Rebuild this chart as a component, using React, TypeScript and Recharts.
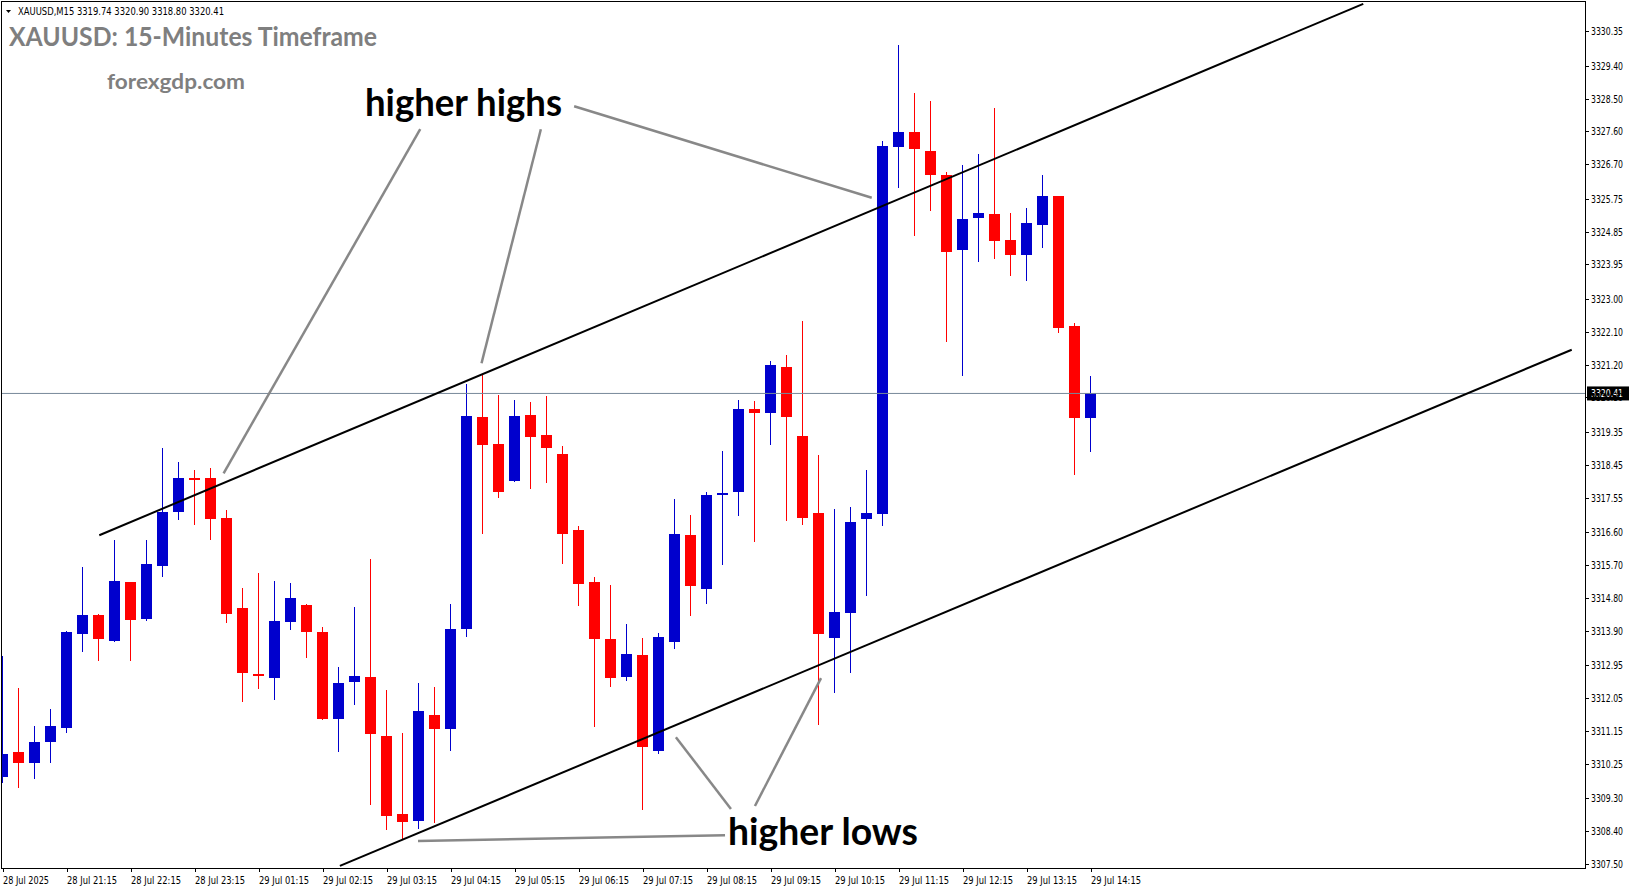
import React from "react";
import { ComposedChart, Bar, XAxis, YAxis, ReferenceLine } from "recharts";

// XAUUSD M15 bars, 28 Jul 20:15 -> 29 Jul 14:15 (no bars between 00:00 and 01:00)
const opens = [
  3309.88, 3310.57, 3310.27, 3310.84, 3311.23, 3313.81, 3314.33, 3313.61, 3315.23, 3314.22,
  3315.67, 3317.15, 3318.09, 3318.09, 3316.99, 3314.52, 3312.71, 3312.6, 3314.14, 3314.6,
  3313.86, 3311.47, 3312.49, 3312.63, 3311.01, 3308.87, 3308.68, 3311.58, 3311.2, 3313.94,
  3319.76, 3319.02, 3318.0, 3319.81, 3319.27, 3318.75, 3316.66, 3315.23, 3313.67, 3312.63,
  3313.23, 3310.6, 3313.6, 3316.52, 3315.05, 3317.62, 3317.71, 3319.99, 3319.88, 3321.13,
  3319.24, 3317.13, 3313.71, 3314.39, 3316.97, 3317.11, 3327.18, 3327.58, 3327.06, 3326.4,
  3324.35, 3325.23, 3325.33, 3324.62, 3324.21, 3325.04, 3325.82, 3322.26, 3319.74,
];
const highs = [
  3313.2, 3312.33, 3311.28, 3311.75, 3313.9, 3315.65, 3314.35, 3316.39, 3315.25, 3316.39,
  3318.91, 3318.53, 3318.31, 3318.36, 3317.21, 3315.07, 3315.48, 3315.26, 3315.21, 3314.62,
  3314.0, 3312.9, 3314.55, 3315.86, 3312.27, 3311.09, 3312.46, 3312.35, 3314.63, 3320.67,
  3320.94, 3320.36, 3320.23, 3320.17, 3320.34, 3318.96, 3316.77, 3315.38, 3315.15, 3314.08,
  3313.7, 3313.85, 3317.51, 3317.07, 3317.7, 3318.83, 3320.23, 3320.2, 3321.3, 3321.46,
  3322.39, 3318.72, 3317.24, 3317.29, 3318.31, 3327.33, 3329.97, 3328.65, 3328.43, 3326.48,
  3326.67, 3326.98, 3328.24, 3325.36, 3325.49, 3326.4, 3325.84, 3322.34, 3320.9,
];
const lows = [
  3309.72, 3309.58, 3309.83, 3310.27, 3311.09, 3313.31, 3313.07, 3313.58, 3313.07, 3314.16,
  3315.37, 3316.93, 3316.8, 3316.39, 3314.11, 3311.94, 3312.3, 3312.0, 3313.92, 3313.15,
  3311.45, 3310.57, 3311.86, 3309.11, 3308.43, 3308.16, 3308.46, 3308.62, 3310.6, 3313.72,
  3316.55, 3317.54, 3317.97, 3317.79, 3317.95, 3315.73, 3314.58, 3311.26, 3312.35, 3312.53,
  3308.99, 3310.51, 3313.41, 3314.31, 3314.64, 3315.71, 3317.05, 3316.34, 3319.0, 3316.92,
  3316.81, 3311.32, 3312.2, 3312.75, 3314.84, 3316.77, 3326.05, 3324.73, 3325.42, 3321.83,
  3320.89, 3324.02, 3324.1, 3323.64, 3323.5, 3324.41, 3322.07, 3318.18, 3318.8,
];
const closes = [
  3310.51, 3310.27, 3310.84, 3311.28, 3313.86, 3314.33, 3313.67, 3315.26, 3314.19, 3315.73,
  3317.15, 3318.09, 3318.06, 3316.96, 3314.36, 3312.74, 3312.65, 3314.16, 3314.79, 3313.86,
  3311.47, 3312.46, 3312.65, 3311.06, 3308.81, 3308.65, 3311.69, 3311.2, 3313.94, 3319.79,
  3318.99, 3317.7, 3319.79, 3319.21, 3318.91, 3316.55, 3315.18, 3313.66, 3312.6, 3313.26,
  3310.72, 3313.72, 3316.55, 3315.14, 3317.62, 3317.67, 3319.97, 3319.88, 3321.19, 3319.77,
  3317.0, 3313.8, 3314.41, 3316.88, 3317.13, 3327.2, 3327.58, 3327.12, 3326.41, 3324.3,
  3325.19, 3325.36, 3324.6, 3324.21, 3325.08, 3325.82, 3322.21, 3319.74, 3320.41,
];

const timeTicks = [0, 4, 8, 12, 16, 20, 24, 28, 32, 36, 40, 44, 48, 52, 56, 60, 64, 68];
const timeLabels = [
  "28 Jul 2025", "28 Jul 21:15", "28 Jul 22:15", "28 Jul 23:15", "29 Jul 01:15", "29 Jul 02:15",
  "29 Jul 03:15", "29 Jul 04:15", "29 Jul 05:15", "29 Jul 06:15", "29 Jul 07:15", "29 Jul 08:15",
  "29 Jul 09:15", "29 Jul 10:15", "29 Jul 11:15", "29 Jul 12:15", "29 Jul 13:15", "29 Jul 14:15",
];
const priceTicks = [
  3330.35, 3329.4, 3328.5, 3327.6, 3326.7, 3325.75, 3324.85, 3323.95, 3323.0, 3322.1, 3321.2,
  3320.3, 3319.35, 3318.45, 3317.55, 3316.6, 3315.7, 3314.8, 3313.9, 3312.95, 3312.05, 3311.15,
  3310.25, 3309.3, 3308.4, 3307.5,
];
const lastPrice = 3320.41;

// drawn objects, in (bar index, price)
const upperChannel = [{ x: 6.0, y: 3316.52 }, { x: 85.0, y: 3331.1 }];
const lowerChannel = [{ x: 21.04, y: 3307.45 }, { x: 98.03, y: 3321.61 }];
const pointerLines = [
  [{ x: 26.06, y: 3327.66 }, { x: 13.77, y: 3318.22 }],
  [{ x: 33.6, y: 3327.66 }, { x: 29.89, y: 3321.24 }],
  [{ x: 35.68, y: 3328.29 }, { x: 54.28, y: 3325.78 }],
  [{ x: 42.04, y: 3310.98 }, { x: 45.48, y: 3309.01 }],
  [{ x: 46.98, y: 3309.09 }, { x: 51.11, y: 3312.6 }],
  [{ x: 25.92, y: 3308.13 }, { x: 45.11, y: 3308.29 }],
];

const data = opens.map((o, i) => ({
  idx: i,
  open: o,
  high: highs[i],
  low: lows[i],
  close: closes[i],
  range: [lows[i], highs[i]],
}));

function Candle(props: any) {
  const { x, y, width, height, payload } = props;
  if (!payload || height == null || isNaN(y)) return null;
  const { open, high, low, close } = payload;
  const k = height / (high - low);
  const yOf = (v: number) => y + (high - v) * k;
  const color = close >= open ? "#0000cd" : "#ff0000";
  const left = Math.round(x + width / 2 - 5.5);
  let top = Math.round(yOf(Math.max(open, close)));
  let bottom = Math.round(yOf(Math.min(open, close)));
  if (bottom - top < 2) {
    const mid = Math.round((top + bottom) / 2);
    top = mid - 1;
    bottom = mid + 1;
  }
  const wTop = Math.round(yOf(high));
  const wBottom = Math.round(yOf(low));
  return (
    <g shapeRendering="crispEdges">
      <rect x={left + 5} y={wTop} width={1} height={wBottom - wTop} fill={color} />
      <rect x={left} y={top} width={11} height={bottom - top} fill={color} />
    </g>
  );
}

function TimeTick(props: any) {
  const { x, y, payload } = props;
  const label = timeLabels[timeTicks.indexOf(payload.value)];
  if (!label) return null;
  const cx = Math.round(x) + 0.5;
  return (
    <g>
      <line x1={cx} y1={y} x2={cx} y2={y + 4} stroke="#000" strokeWidth={1} />
      <text
        x={Math.round(x)}
        y={y + 16}
        fontFamily="DejaVu Sans"
        fontSize={10}
        fill="#000"
        textLength={label.length > 11 ? 50 : 46}
        lengthAdjust="spacingAndGlyphs"
      >
        {label}
      </text>
    </g>
  );
}

function PriceTick(props: any) {
  const { x, y, payload } = props;
  const cy = Math.round(y) + 0.5;
  return (
    <g>
      <line x1={x} y1={cy} x2={x + 4} y2={cy} stroke="#000" strokeWidth={1} />
      <text
        x={x + 6}
        y={y + 4}
        fontFamily="DejaVu Sans"
        fontSize={10}
        fill="#000"
        textLength={32}
        lengthAdjust="spacingAndGlyphs"
      >
        {payload.value.toFixed(2)}
      </text>
    </g>
  );
}

function PriceTag(props: any) {
  const vb = props.viewBox || {};
  const x = vb.x + vb.width + 2;
  const y = vb.y;
  return (
    <g>
      <rect x={x} y={y - 7} width={42} height={14} fill="#000" />
      <text
        x={x + 4}
        y={y + 4}
        fontFamily="DejaVu Sans"
        fontSize={10}
        fill="#fff"
        textLength={32}
        lengthAdjust="spacingAndGlyphs"
      >
        {lastPrice.toFixed(2)}
      </text>
    </g>
  );
}

export default function App() {
  return (
    <div style={{ position: "relative", width: 1631, height: 888, background: "#fff" }}>
      <style>{"body{margin:0}"}</style>
      <ComposedChart
        width={1631}
        height={888}
        data={data}
        margin={{ top: 2, right: 0, bottom: 0, left: 2 }}
      >
        <XAxis
          dataKey="idx"
          type="number"
          domain={[-0.08, 98.86]}
          allowDataOverflow
          ticks={timeTicks}
          interval={0}
          tick={<TimeTick />}
          tickSize={0}
          tickMargin={0}
          tickLine={false}
          axisLine={false}
          height={20}
        />
        <YAxis
          orientation="right"
          type="number"
          domain={[3307.39, 3331.15]}
          allowDataOverflow
          ticks={priceTicks}
          interval={0}
          tick={<PriceTick />}
          tickSize={0}
          tickMargin={0}
          tickLine={false}
          axisLine={false}
          width={46}
        />
        <ReferenceLine y={lastPrice} stroke="#778899" strokeWidth={1} label={<PriceTag />} />
        <Bar dataKey="range" barSize={11} shape={<Candle />} isAnimationActive={false} />
        <ReferenceLine segment={upperChannel} stroke="#000" strokeWidth={2} />
        <ReferenceLine segment={lowerChannel} stroke="#000" strokeWidth={2} />
        {pointerLines.map((seg, i) => (
          <ReferenceLine key={i} segment={seg} stroke="#888" strokeWidth={2.5} />
        ))}
      </ComposedChart>
      <svg
        width={1631}
        height={888}
        style={{ position: "absolute", left: 0, top: 0, pointerEvents: "none" }}
      >
        <rect x={1.5} y={1.5} width={1584} height={867} fill="none" stroke="#000" strokeWidth={1} />
        <polygon points="6,10 11,10 8.5,13" fill="#000" />
        <text
          x={18}
          y={15}
          fontFamily="DejaVu Sans"
          fontSize={10}
          fill="#000"
          textLength={206}
          lengthAdjust="spacingAndGlyphs"
        >
          XAUUSD,M15  3319.74 3320.90 3318.80 3320.41
        </text>
        <text
          x={9}
          y={45.5}
          fontFamily="Lato"
          fontWeight="bold"
          fontSize={27}
          fill="#7f7f7f"
          textLength={368}
          lengthAdjust="spacingAndGlyphs"
        >
          XAUUSD: 15-Minutes Timeframe
        </text>
        <text
          x={107}
          y={88.5}
          fontFamily="Lato"
          fontWeight="bold"
          fontSize={21}
          fill="#7f7f7f"
          textLength={138}
          lengthAdjust="spacingAndGlyphs"
        >
          forexgdp.com
        </text>
        <text
          x={365}
          y={116}
          fontFamily="Lato"
          fontWeight="bold"
          fontSize={38}
          fill="#000"
          textLength={197}
          lengthAdjust="spacingAndGlyphs"
        >
          higher highs
        </text>
        <text
          x={728}
          y={845}
          fontFamily="Lato"
          fontWeight="bold"
          fontSize={38}
          fill="#000"
          textLength={190}
          lengthAdjust="spacingAndGlyphs"
        >
          higher lows
        </text>
      </svg>
    </div>
  );
}
